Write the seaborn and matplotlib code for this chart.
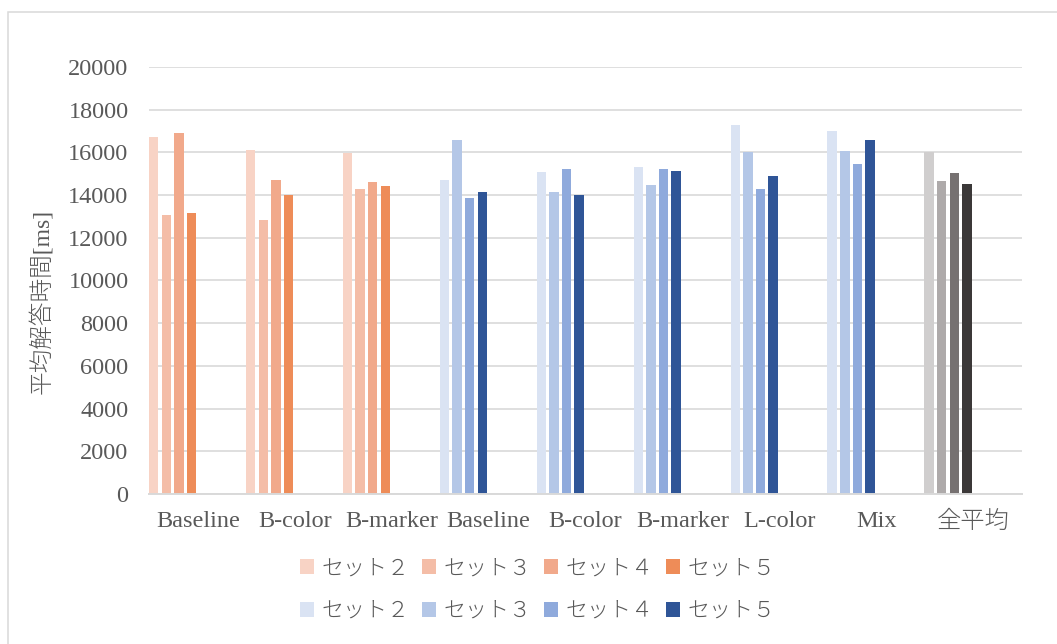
import matplotlib
matplotlib.use("Agg")
import matplotlib.pyplot as plt
from matplotlib.patches import Patch, Rectangle
import pandas as pd
import seaborn as sns

# ---- data -------------------------------------------------------------
sets = ["セット２", "セット３", "セット４", "セット５"]

orange_conds = ["Baseline", "B-color", "B-marker"]
orange_set2 = [16700, 16100, 15960]
orange_set3 = [13050, 12830, 14270]
orange_set4 = [16900, 14700, 14610]
orange_set5 = [13150, 14000, 14440]

blue_conds = ["Baseline", "B-color", "B-marker", "L-color", "Mix"]
blue_set2 = [14700, 15080, 15320, 17280, 17000]
blue_set3 = [16580, 14150, 14470, 16020, 16070]
blue_set4 = [13860, 15220, 15220, 14290, 15460]
blue_set5 = [14150, 14000, 15130, 14900, 16580]

overall_cond = ["全平均"]
overall_vals = [16020, 14660, 15040, 14520]

orange_colors = ["#F8D3C5", "#F4BDA7", "#F1A98B", "#EE8C58"]
blue_colors = ["#DAE3F3", "#B4C7E7", "#8FAADC", "#2F5597"]
gray_colors = ["#D0CECE", "#AEAAAA", "#767171", "#3B3838"]

# ---- long-form tables ---------------------------------------------------
def long_table(prefix, conds, series):
    rows = []
    for s, vals in zip(sets, series):
        for c, v in zip(conds, vals):
            rows.append({"cond": f"{prefix}:{c}", "set": s, "ms": v})
    return pd.DataFrame(rows)

df_orange = long_table("o", orange_conds,
                       [orange_set2, orange_set3, orange_set4, orange_set5])
df_blue = long_table("b", blue_conds,
                     [blue_set2, blue_set3, blue_set4, blue_set5])
df_gray = long_table("g", overall_cond, [[v] for v in overall_vals])

order = ([f"o:{c}" for c in orange_conds] + [f"b:{c}" for c in blue_conds]
         + [f"g:{c}" for c in overall_cond])
tick_labels = orange_conds + blue_conds + overall_cond

# eight dodge slots per category; the bars use the first four
slots = sets + [f"_slot{i}" for i in range(4)]

# ---- figure -------------------------------------------------------------
sns.set_theme(style="white")
plt.rcParams["font.family"] = ["Liberation Serif", "Noto Sans CJK JP"]

fig = plt.figure(figsize=(10.57, 6.44), dpi=100)
ax = fig.add_axes([0.1413, 0.2329, 0.8253, 0.6631])

for df, cols in [(df_orange, orange_colors), (df_blue, blue_colors),
                 (df_gray, gray_colors)]:
    pal = {s: c for s, c in zip(sets, cols)}
    pal.update({s: "white" for s in slots[4:]})
    sns.barplot(data=df, x="cond", y="ms", hue="set", order=order,
                hue_order=slots, palette=pal, dodge=True, width=1.04,
                gap=0.25, errorbar=None, legend=False, saturation=1,
                linewidth=0, ax=ax)

ax.set_ylim(0, 20000)
ax.set_yticks(range(0, 20001, 2000))
ax.set_xlim(-0.5, len(order) - 0.5)
ax.set_xticks(range(len(order)))
ax.set_xticklabels(tick_labels)

ax.yaxis.grid(True, color="#D9D9D9", linewidth=1.2)
ax.xaxis.grid(False)
ax.set_axisbelow(True)
for side in ["left", "right", "top"]:
    ax.spines[side].set_visible(False)
ax.spines["bottom"].set_color("#D9D9D9")
ax.spines["bottom"].set_linewidth(1.4)

ax.tick_params(axis="y", length=0, pad=15, labelsize=17.5, labelcolor="#595959")
ax.tick_params(axis="x", length=0, pad=12, labelsize=17.5, labelcolor="#595959")
for t in ax.get_xticklabels():
    t.set_fontweight("light")

ax.set_xlabel("")
ax.set_ylabel("平均解答時間[ms]", fontsize=17, color="#595959",
              fontweight="light")
ax.yaxis.label.set_va("center")
ax.yaxis.set_label_coords(-0.123, 0.45)

# legend: two rows (orange sets, blue sets)
handles, labels = [], []
for oc, bc, s in zip(orange_colors, blue_colors, sets):
    handles += [Patch(facecolor=oc, edgecolor="none"),
                Patch(facecolor=bc, edgecolor="none")]
    labels += [s, s]
fig.legend(handles, labels, ncol=4, loc="center",
           bbox_to_anchor=(0.509, 0.0846), frameon=False,
           prop={"family": "Noto Sans CJK JP", "size": 15.8,
                 "weight": "light"},
           labelcolor="#595959", handlelength=0.65, handleheight=0.65,
           handletextpad=0.35, columnspacing=0.55, labelspacing=0.95,
           borderpad=0)

# chart-area frame
fig.patches.append(Rectangle((8 / 1057, -0.1), 1.2, 1.1 - 12 / 644,
                             transform=fig.transFigure, fill=False,
                             edgecolor="#D9D9D9", linewidth=1.1))

fig.savefig("out.png", dpi=100)
